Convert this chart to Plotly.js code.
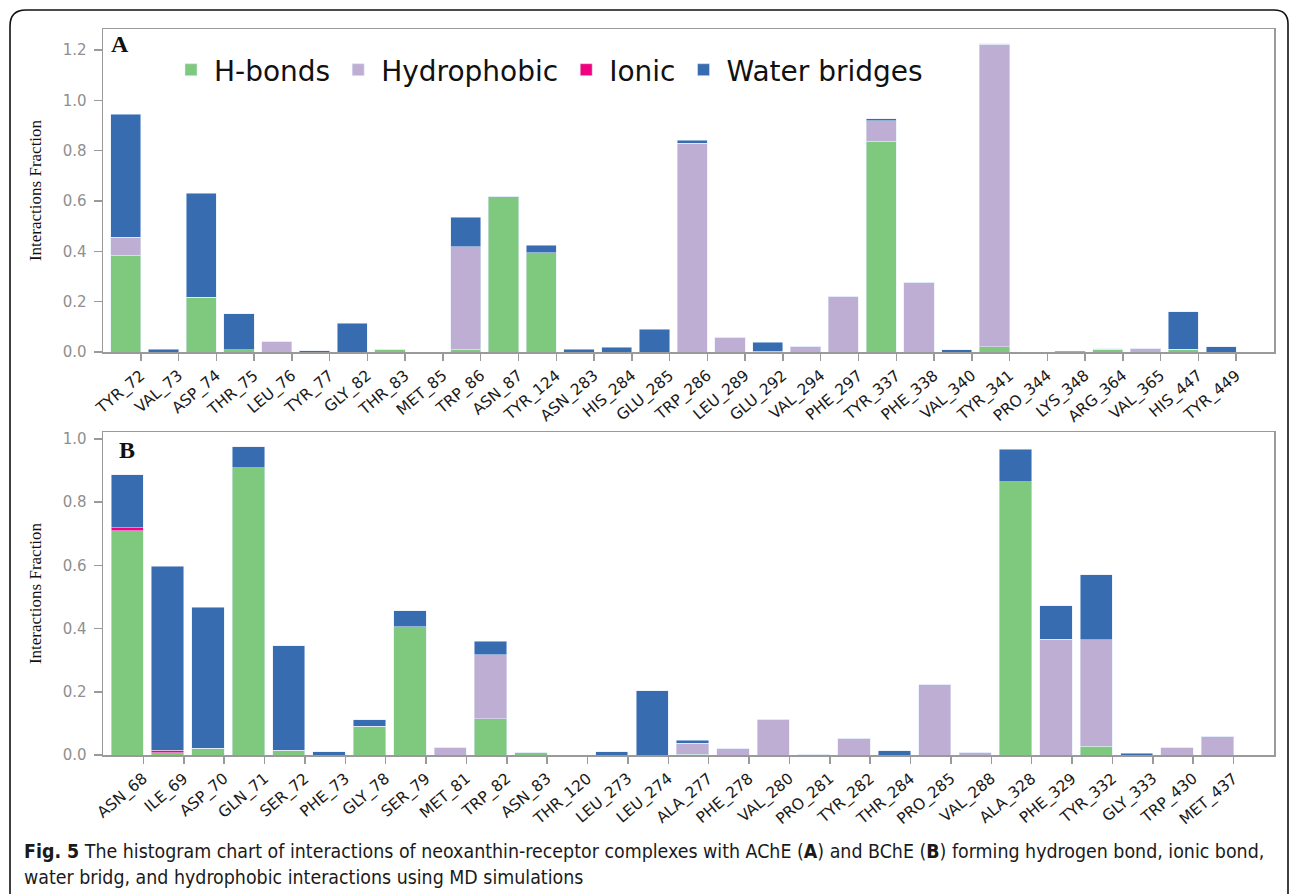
<!DOCTYPE html>
<html>
<head>
<meta charset="utf-8">
<script src="https://cdn.plot.ly/plotly-3.0.1.min.js"></script>
<style>
html,body{margin:0;padding:0;background:#fff;}
#chart{width:1290px;height:894px;}
</style>
</head>
<body>
<div id="chart"></div>
<script>
// Panel A (AChE)
const residuesA = ["TYR_72","VAL_73","ASP_74","THR_75","LEU_76","TYR_77","GLY_82","THR_83","MET_85","TRP_86","ASN_87","TYR_124","ASN_283","HIS_284","GLU_285","TRP_286","LEU_289","GLU_292","VAL_294","PHE_297","TYR_337","PHE_338","VAL_340","TYR_341","PRO_344","LYS_348","ARG_364","VAL_365","HIS_447","TYR_449"];
const hbondsA      = [0.384,0,0.217,0.008,0,0,0,0.010,0,0.010,0.617,0.395,0,0,0,0,0,0,0,0,0.837,0,0,0.021,0,0,0.010,0,0.011,0];
const hydrophobicA = [0.072,0,0,0,0.041,0,0,0,0,0.409,0,0,0,0,0,0.829,0.058,0,0.021,0.219,0.082,0.277,0,1.201,0,0,0,0.013,0,0];
const ionicA       = [0,0,0,0,0,0,0,0,0,0,0,0,0,0,0,0,0,0.003,0,0,0,0,0,0,0,0,0,0,0,0];
const waterA       = [0.488,0.010,0.413,0.143,0,0.005,0.114,0,0,0.117,0,0.030,0.010,0.019,0.091,0.012,0,0.035,0,0,0.007,0,0.008,0.003,0,0.003,0.002,0,0.148,0.021];

// Panel B (BChE)
const residuesB = ["ASN_68","ILE_69","ASP_70","GLN_71","SER_72","PHE_73","GLY_78","SER_79","MET_81","TRP_82","ASN_83","THR_120","LEU_273","LEU_274","ALA_277","PHE_278","VAL_280","PRO_281","TYR_282","THR_284","PRO_285","VAL_288","ALA_328","PHE_329","TYR_332","GLY_333","TRP_430","MET_437"];
const hbondsB      = [0.709,0.007,0.022,0.909,0.015,0,0.091,0.406,0,0.114,0.007,0,0,0,0.003,0,0,0,0,0,0,0,0.865,0,0.028,0,0,0];
const hydrophobicB = [0,0,0,0,0,0,0,0,0.023,0.204,0,0,0,0,0.034,0.020,0.113,0.003,0.053,0,0.222,0.007,0,0.366,0.337,0,0.023,0.058];
const ionicB       = [0.010,0.008,0,0,0,0,0,0,0,0,0,0,0,0,0,0,0,0,0,0,0,0,0,0,0,0,0,0];
const waterB       = [0.168,0.583,0.445,0.066,0.331,0.011,0.021,0.051,0,0.042,0,0,0.010,0.203,0.010,0,0,0,0,0.013,0,0,0.102,0.107,0.206,0.006,0,0];

const seriesNames = ["H-bonds","Hydrophobic","Ionic","Water bridges"];
const seriesColors = ["#7fc97f","#beaed4","#f0027f","#386cb0"];

function mk(x, y, idx, axis, showLegend){
  return {
    type:"bar", x:x, y:y, name:seriesNames[idx],
    marker:{color:seriesColors[idx], line:{color:"rgba(225,235,250,0.9)", width:0.6}},
    width:0.8, offset:-0.8,
    xaxis: axis==="A" ? "x" : "x2",
    yaxis: axis==="A" ? "y" : "y2",
    showlegend: showLegend, legendgroup: seriesNames[idx],
    hoverinfo:"x+y+name"
  };
}
const dataA = [hbondsA, hydrophobicA, ionicA, waterA];
const dataB = [hbondsB, hydrophobicB, ionicB, waterB];
const traces = [];
dataA.forEach((d,i)=>traces.push(mk(residuesA,d,i,"A",true)));
dataB.forEach((d,i)=>traces.push(mk(residuesB,d,i,"B",false)));

const W=1290, H=894;
const px = v=>v/W, py = v=>1-v/H;

const axisCommon = {
  showline:true, mirror:true, linecolor:"#9a9a9a", linewidth:1.5,
  ticks:"outside", ticklen:7, tickwidth:1.5, tickcolor:"#9a9a9a",
  showgrid:false, zeroline:false
};
const xCommon = Object.assign({}, axisCommon, {
  type:"category", tickangle:-40,
  tickfont:{family:"DejaVu Sans", size:15.5, color:"#1a1a1a"}
});
const yCommon = Object.assign({}, axisCommon, {
  tickfont:{family:"DejaVu Sans", size:15, color:"#8f8f8f"},
  tickformat:".1f", dtick:0.2, ticklen:8, ticklabelstandoff:4,
  title:{text:"Interactions Fraction", font:{family:"Liberation Serif", size:17, color:"#111"}, standoff:16}
});

const captionFont = {family:"Liberation Sans Narrow, DejaVu Sans Condensed, Roboto Condensed, Liberation Sans", size:19.4, color:"#1a1a1a"};

const layout = {
  width:W, height:H,
  margin:{l:0,r:0,t:0,b:0},
  paper_bgcolor:"#fff", plot_bgcolor:"#fff",
  barmode:"stack", bargap:0.2,
  showlegend:true,
  legend:{orientation:"h", x:px(168), y:py(70), xanchor:"left", yanchor:"middle",
          font:{family:"DejaVu Sans", size:28, color:"#111"}, bgcolor:"rgba(0,0,0,0)",
          itemwidth:36, tracegroupgap:0, traceorder:"normal"},
  xaxis: Object.assign({}, xCommon, {domain:[px(103), px(1274)], anchor:"y", range:[-1,30]}),
  yaxis: Object.assign({}, yCommon, {domain:[py(352), py(29)], anchor:"x", range:[0,1.283]}),
  xaxis2: Object.assign({}, xCommon, {domain:[px(103), px(1274)], anchor:"y2", range:[-1,28]}),
  yaxis2: Object.assign({}, yCommon, {domain:[py(755), py(432)], anchor:"x2", range:[0,1.022]}),
  shapes:[
    {type:"path", xref:"paper", yref:"paper",
     path:`M ${px(10)} ${py(900)} L ${px(10)} ${py(26)} Q ${px(10)} ${py(10)} ${px(26)} ${py(10)} L ${px(1274)} ${py(10)} Q ${px(1288)} ${py(10)} ${px(1288)} ${py(24)} L ${px(1288)} ${py(900)}`,
     line:{color:"#111", width:1.6}}
  ],
  annotations:[
    {text:"<b>A</b>", xref:"paper", yref:"paper", x:px(120), y:py(44), xanchor:"center", yanchor:"middle",
     showarrow:false, font:{family:"Liberation Serif", size:24, color:"#111"}},
    {text:"<b>B</b>", xref:"paper", yref:"paper", x:px(127), y:py(450), xanchor:"center", yanchor:"middle",
     showarrow:false, font:{family:"Liberation Serif", size:24, color:"#111"}},
    {text:"<b>Fig. 5</b> The histogram chart of interactions of neoxanthin-receptor complexes with AChE (<b>A</b>) and BChE (<b>B</b>) forming hydrogen bond, ionic bond,",
     xref:"paper", yref:"paper", x:px(22), y:py(851), xanchor:"left", yanchor:"middle",
     showarrow:false, font:captionFont},
    {text:"water bridg, and hydrophobic interactions using MD simulations",
     xref:"paper", yref:"paper", x:px(22), y:py(877), xanchor:"left", yanchor:"middle",
     showarrow:false, font:captionFont}
  ]
};

Plotly.newPlot("chart", traces, layout, {displayModeBar:false, staticPlot:true});
</script>
</body>
</html>
